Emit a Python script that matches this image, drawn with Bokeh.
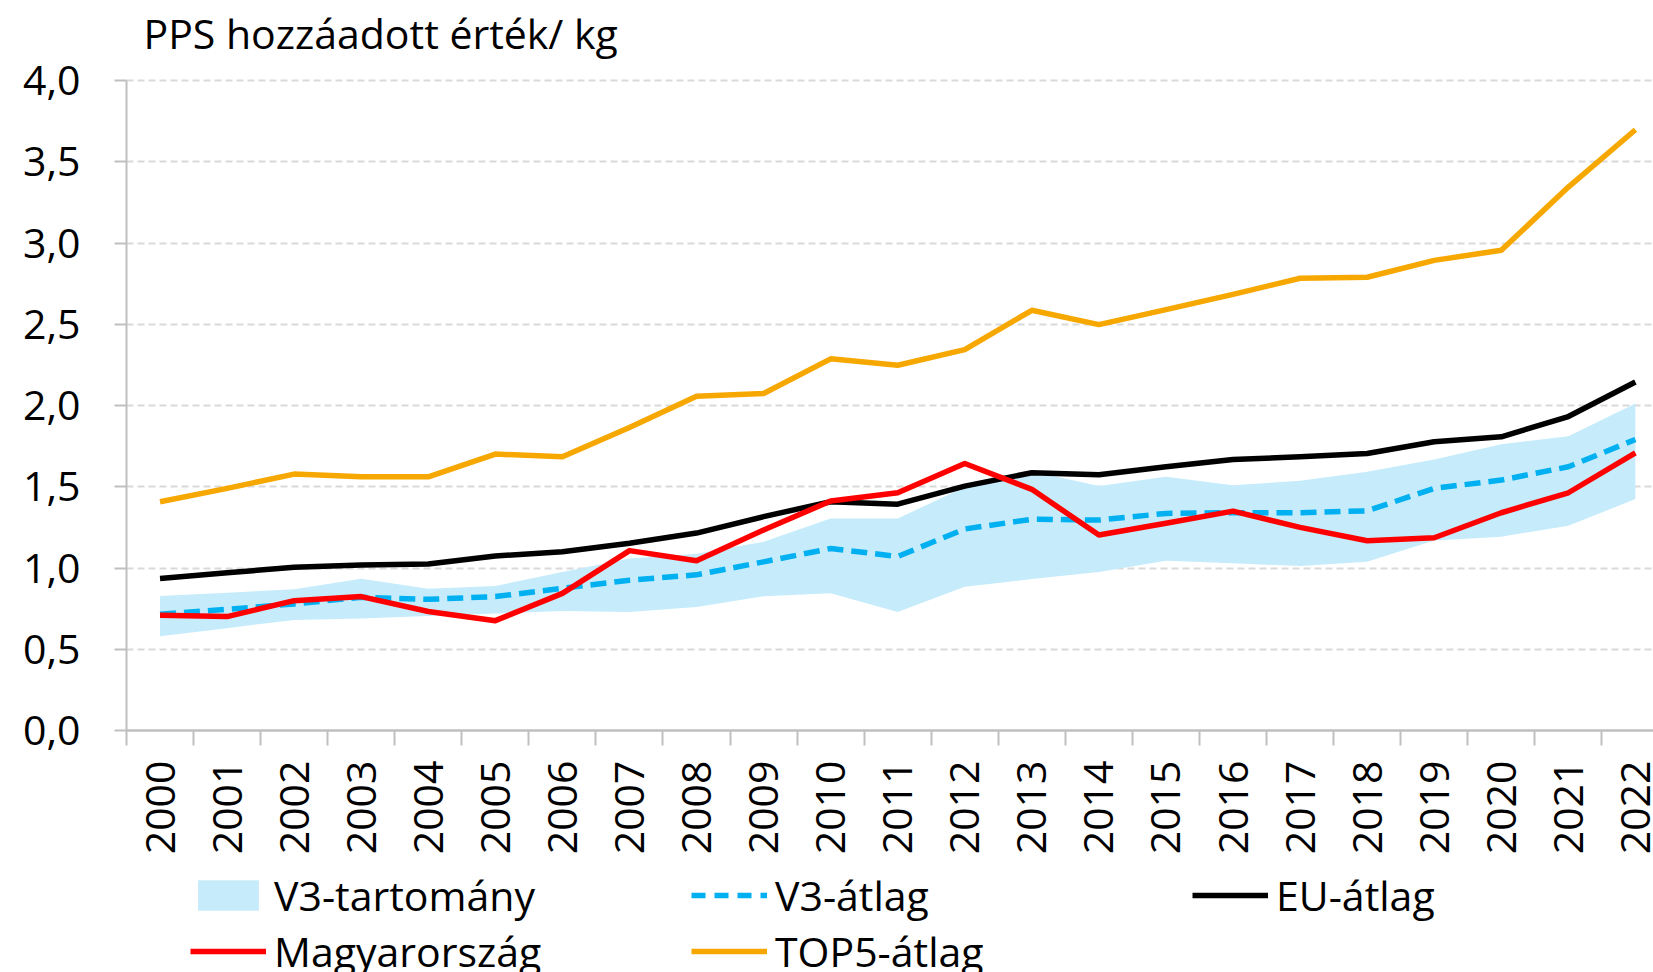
import math
from bokeh.plotting import figure
from bokeh.layouts import column
from bokeh.models import (Range1d, FixedTicker, CustomJSTickFormatter, Legend, LegendItem,
                          ColumnDataSource, Label)
from bokeh.embed import file_html
from bokeh.resources import INLINE

years = list(range(2000, 2023))
band_low = [0.58, 0.63, 0.68, 0.69, 0.705, 0.72, 0.736, 0.73, 0.76, 0.826, 0.845, 0.73,
            0.884, 0.932, 0.975, 1.044, 1.029, 1.012, 1.039, 1.170, 1.193, 1.260, 1.424]
band_high = [0.828, 0.848, 0.869, 0.934, 0.873, 0.889, 0.976, 1.058, 1.088, 1.161, 1.304, 1.304,
             1.499, 1.595, 1.504, 1.561, 1.509, 1.537, 1.592, 1.668, 1.762, 1.811, 2.012]
v3_avg = [0.715, 0.746, 0.779, 0.820, 0.807, 0.824, 0.875, 0.925, 0.958, 1.038, 1.120, 1.071,
          1.240, 1.300, 1.295, 1.336, 1.340, 1.340, 1.352, 1.490, 1.541, 1.623, 1.791]
eu_avg = [0.936, 0.971, 1.004, 1.018, 1.025, 1.074, 1.100, 1.152, 1.215, 1.316, 1.408, 1.393,
          1.504, 1.586, 1.574, 1.623, 1.668, 1.684, 1.705, 1.777, 1.807, 1.932, 2.145]
hungary = [0.709, 0.701, 0.799, 0.824, 0.732, 0.676, 0.844, 1.107, 1.045, 1.234, 1.412, 1.463,
           1.643, 1.484, 1.203, 1.275, 1.350, 1.250, 1.168, 1.186, 1.340, 1.463, 1.709]
top5 = [1.408, 1.490, 1.578, 1.561, 1.561, 1.701, 1.684, 1.865, 2.057, 2.074, 2.287, 2.248,
        2.344, 2.586, 2.498, 2.590, 2.684, 2.783, 2.789, 2.893, 2.955, 3.344, 3.697]

labels = ["V3-tartomány", "V3-átlag", "EU-átlag", "Magyarország", "TOP5-átlag"]
y_ticks = [0, 0.5, 1.0, 1.5, 2.0, 2.5, 3.0, 3.5, 4.0]
title_text = "PPS hozzáadott érték/ kg"

FONT = "Open Sans"
FS = "41px"
BAND_C, V3_C, EU_C, HU_C, TOP_C = "#C6ECFB", "#00B0F0", "#000000", "#FF0000", "#F7A800"
LW = 5.5

idx = list(range(len(years)))
src = ColumnDataSource(dict(x=idx, lo=band_low, hi=band_high, v3=v3_avg, eu=eu_avg,
                            hu=hungary, top5=top5))

# layout geometry (pixels): plot area from the top of the page down to y=730,
# value 4.0 sits 80 px below the top, value 0 at the bottom edge of the plot area.
H_MAIN = 866
AREA_H = 730
Y_TOP = max(y_ticks) * AREA_H / (AREA_H - 80)

p = figure(width=1653, height=H_MAIN, output_backend="svg", toolbar_location=None,
           x_range=Range1d(-0.5, 22.27), y_range=Range1d(0, Y_TOP),
           min_border_left=126, min_border_right=0, min_border_top=0,
           min_border_bottom=H_MAIN - AREA_H)
p.outline_line_color = None
p.background_fill_color = "white"
p.border_fill_color = "white"

p.add_layout(Label(x=17, y=AREA_H - 32.5, x_units="screen", y_units="screen", text=title_text,
                   text_font=FONT, text_font_size=FS, text_color="black",
                   text_align="left", text_baseline="alphabetic"))

# grid
p.xgrid.visible = False
p.ygrid.ticker = FixedTicker(ticks=y_ticks)
p.ygrid.grid_line_color = "#D9D9D9"
p.ygrid.grid_line_width = 2
p.ygrid.grid_line_dash = "7 4"

# y axis
p.yaxis.ticker = FixedTicker(ticks=y_ticks)
p.yaxis.bounds = (min(y_ticks), max(y_ticks))
p.yaxis.formatter = CustomJSTickFormatter(code="return tick.toFixed(1).replace('.', ',');")
p.yaxis.major_label_text_font = FONT
p.yaxis.major_label_text_font_size = FS
p.yaxis.major_label_text_color = "black"
p.yaxis.axis_line_color = "#BFBFBF"
p.yaxis.axis_line_width = 2
p.yaxis.major_tick_line_color = "#BFBFBF"
p.yaxis.major_tick_line_width = 2
p.yaxis.major_tick_out = 12
p.yaxis.major_tick_in = 0
p.yaxis.minor_tick_line_color = None
p.yaxis.major_label_standoff = 34

# x axis
p.xaxis.ticker = FixedTicker(ticks=idx, minor_ticks=[i - 0.5 for i in range(len(years) + 1)])
p.xaxis.major_label_overrides = {i: str(y) for i, y in enumerate(years)}
p.xaxis.major_label_orientation = math.pi / 2
p.xaxis.major_label_text_font = FONT
p.xaxis.major_label_text_font_size = FS
p.xaxis.major_label_text_color = "black"
p.xaxis.major_label_standoff = 15
p.xaxis.axis_line_color = "#BFBFBF"
p.xaxis.axis_line_width = 2.5
p.xaxis.major_tick_out = 0
p.xaxis.major_tick_in = 0
p.xaxis.major_tick_line_color = None
p.xaxis.minor_tick_out = 15
p.xaxis.minor_tick_in = 0
p.xaxis.minor_tick_line_color = "#BFBFBF"
p.xaxis.minor_tick_line_width = 2

p.varea(x="x", y1="lo", y2="hi", source=src, fill_color=BAND_C, fill_alpha=1.0)
p.line("x", "v3", source=src, line_color=V3_C, line_width=LW, line_dash="16 8", line_join="round")
p.line("x", "eu", source=src, line_color=EU_C, line_width=LW, line_join="round")
p.line("x", "hu", source=src, line_color=HU_C, line_width=LW, line_join="round")
p.line("x", "top5", source=src, line_color=TOP_C, line_width=LW, line_join="round")

# legend strip below the chart (its own figure; the series lie outside its visible range)
H_LEG = 972 - H_MAIN
q = figure(width=1653, height=H_LEG, output_backend="svg", toolbar_location=None,
           x_axis_type=None, y_axis_type=None, x_range=Range1d(0, 1), y_range=Range1d(100, 101),
           min_border=0)
q.outline_line_color = None
q.grid.visible = False
q.background_fill_color = "white"
q.border_fill_color = "white"
l_band = q.varea(x="x", y1="lo", y2="hi", source=src, fill_color=BAND_C)
l_v3 = q.line("x", "v3", source=src, line_color=V3_C, line_width=LW, line_dash="14 9")
l_eu = q.line("x", "eu", source=src, line_color=EU_C, line_width=LW)
l_hu = q.line("x", "hu", source=src, line_color=HU_C, line_width=LW)
l_top = q.line("x", "top5", source=src, line_color=TOP_C, line_width=LW)

legend = Legend(items=[
    LegendItem(label=labels[0], renderers=[l_band]),
    LegendItem(label=labels[1], renderers=[l_v3]),
    LegendItem(label=labels[2], renderers=[l_eu]),
    LegendItem(label=labels[3], renderers=[l_hu]),
    LegendItem(label=labels[4], renderers=[l_top]),
], orientation="horizontal", ncols=3, location=(64, -7))
legend.label_text_font = FONT
legend.label_text_font_size = FS
legend.label_text_color = "black"
legend.glyph_width = 76
legend.glyph_height = 38
legend.label_height = 38
legend.label_width = 417
legend.label_standoff = 8
legend.spacing = -3
legend.padding = 0
legend.margin = 0
legend.border_line_color = None
legend.background_fill_alpha = 0
q.add_layout(legend, "center")

layout = column(p, q, spacing=0)
open("out.html", "w").write(file_html(layout, INLINE))
